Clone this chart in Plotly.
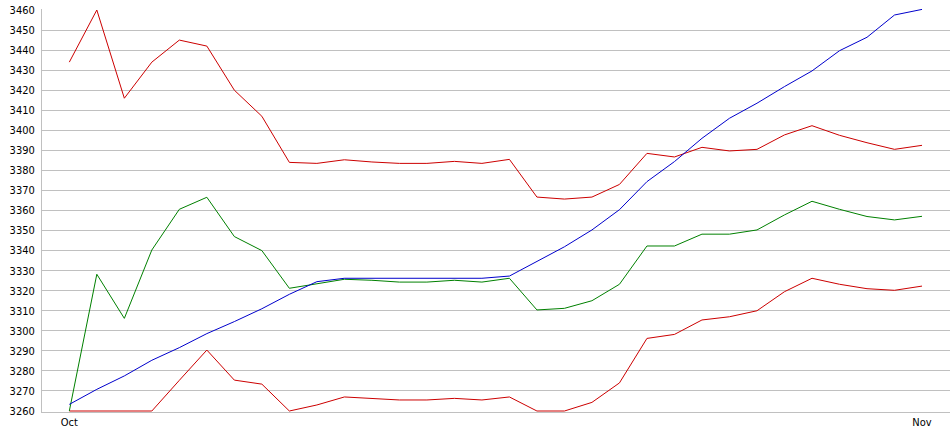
import pandas as pd
import plotly.graph_objects as go

dates = pd.date_range("2023-10-01", "2023-11-01", freq="D")

upper_band = [3434, 3460, 3416, 3434, 3445, 3442, 3420, 3407, 3384, 3383.5,
              3385.3, 3384.2, 3383.5, 3383.5, 3384.5, 3383.5, 3385.5, 3366.7, 3365.7, 3366.7,
              3373, 3388.5, 3386.7, 3391.5, 3389.7, 3390.5, 3397.7, 3402.3, 3397.5, 3393.8,
              3390.5, 3392.5]
middle_line = [3260, 3328.2, 3306.2, 3340.3, 3360.6, 3366.6, 3347, 3340, 3321.2, 3323.3,
               3325.7, 3325.2, 3324.3, 3324.3, 3325.2, 3324.3, 3326.2, 3310.4, 3311.2, 3315,
               3323.2, 3342.3, 3342.3, 3348.2, 3348.2, 3350.3, 3357.8, 3364.6, 3360.6, 3357,
               3355.3, 3357.1]
lower_band = [3260, 3260, 3260, 3260, 3275.3, 3290.4, 3275.4, 3273.4, 3260, 3263,
              3267, 3266.3, 3265.5, 3265.5, 3266.3, 3265.5, 3267, 3260, 3260, 3264.3,
              3274, 3296.2, 3298.2, 3305.4, 3307, 3310, 3319.5, 3326.2, 3323.2, 3321,
              3320.2, 3322.3]
trend_line = [3263.3, 3270.8, 3277.5, 3285.3, 3291.6, 3298.6, 3304.6, 3311, 3318.2, 3324.5,
              3326.2, 3326.2, 3326.2, 3326.2, 3326.2, 3326.2, 3327.3, 3334.4, 3341.9, 3350.3,
              3360.4, 3374.4, 3384.4, 3396, 3406, 3413.5, 3421.8, 3429.6, 3439.7, 3446.4,
              3457.5, 3460.3]

x_tick_vals = ["2023-10-01", "2023-11-01"]
x_tick_text = ["Oct", "Nov"]
y_ticks = list(range(3260, 3461, 10))

fig = go.Figure()
for vals, col in [(upper_band, "#cc0000"), (lower_band, "#cc0000"),
                  (middle_line, "#008000"), (trend_line, "#0000cc")]:
    fig.add_trace(go.Scatter(x=dates, y=vals, mode="lines",
                             line=dict(color=col, width=1), showlegend=False,
                             hoverinfo="skip"))

fig.update_layout(
    width=950, height=435,
    margin=dict(l=42, r=0, t=9, b=23),
    plot_bgcolor="white", paper_bgcolor="white",
    font=dict(family="DejaVu Sans Condensed, Liberation Sans", size=11, color="black"),
    xaxis=dict(
        range=["2023-09-30 00:10", "2023-11-02 00:25"],
        tickvals=x_tick_vals, ticktext=x_tick_text,
        showgrid=False, zeroline=False,
        showline=True, linecolor="#c0c0c0", linewidth=1,
        ticks="", ticklen=0,
    ),
    yaxis=dict(
        range=[3259.5, 3460.5],
        tickvals=y_ticks,
        showgrid=True, gridcolor="#c0c0c0", gridwidth=1,
        zeroline=False,
        showline=True, linecolor="#c0c0c0", linewidth=1,
        ticks="", ticklen=0, ticklabelstandoff=4,
    ),
)

fig.write_html("out.html", config={"displayModeBar": False, "staticPlot": True},
               post_script="document.body.style.margin='0';document.body.style.overflow='hidden';")
